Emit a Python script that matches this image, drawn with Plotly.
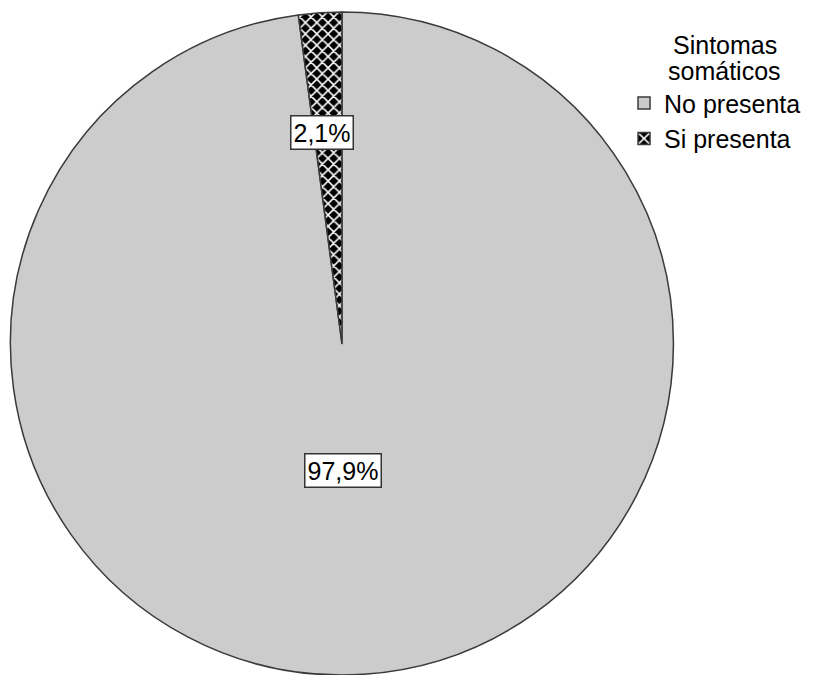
import plotly.graph_objects as go

# Somatic symptom presence (percent of respondents)
categories = ["No presenta", "Si presenta"]
percentages = [97.9, 2.1]
legend_title_lines = ["Sintomas", "somáticos"]

fill_colors = ["#cccccc", "#000000"]
FONT = "Liberation Sans, Arial, sans-serif"

fig = go.Figure()
fig.add_trace(go.Pie(
    labels=categories,
    values=percentages,
    sort=False,
    direction="clockwise",
    rotation=0,
    textinfo="none",
    hoverinfo="label+percent",
    marker=dict(
        colors=fill_colors,
        line=dict(color="#3a3a3a", width=1.5),
        pattern=dict(
            shape=["", "x"],
            fgcolor=["#cccccc", "#ffffff"],
            bgcolor=["#cccccc", "#000000"],
            size=[8, 8],
            solidity=[0.2, 0.35],
        ),
    ),
    domain=dict(x=[0.0, 0.834], y=[0.0, 1.0]),
))

# Percentage labels in white boxes, one per slice
def fmt(v):
    return f"{v:.1f}%".replace(".", ",")

label_pos = [(0.4183, 0.309), (0.3927, 0.819)]
for (x, y), v in zip(label_pos, percentages):
    fig.add_annotation(
        x=x, y=y, xref="paper", yref="paper",
        xanchor="center", yanchor="middle",
        text=fmt(v), showarrow=False,
        font=dict(family=FONT, size=25, color="#000000"),
        bgcolor="#ffffff", bordercolor="#333333", borderwidth=1.5, borderpad=2,
    )

# Legend heading, each line centred above the legend entries
title_y = [0.95, 0.911]
for line, y in zip(legend_title_lines, title_y):
    fig.add_annotation(
        x=0.884, y=y, xref="paper", yref="paper",
        xanchor="center", yanchor="middle",
        text=line, showarrow=False,
        font=dict(family=FONT, size=25, color="#000000"),
    )

fig.update_layout(
    width=820, height=675,
    margin=dict(l=0, r=0, t=12, b=0),
    paper_bgcolor="#ffffff",
    plot_bgcolor="#ffffff",
    font=dict(family=FONT, size=25, color="#000000"),
    showlegend=True,
    legend=dict(
        x=0.761, y=0.897, xanchor="left", yanchor="top",
        font=dict(family=FONT, size=25),
        bgcolor="rgba(0,0,0,0)",
    ),
)

fig.write_html("out.html")
